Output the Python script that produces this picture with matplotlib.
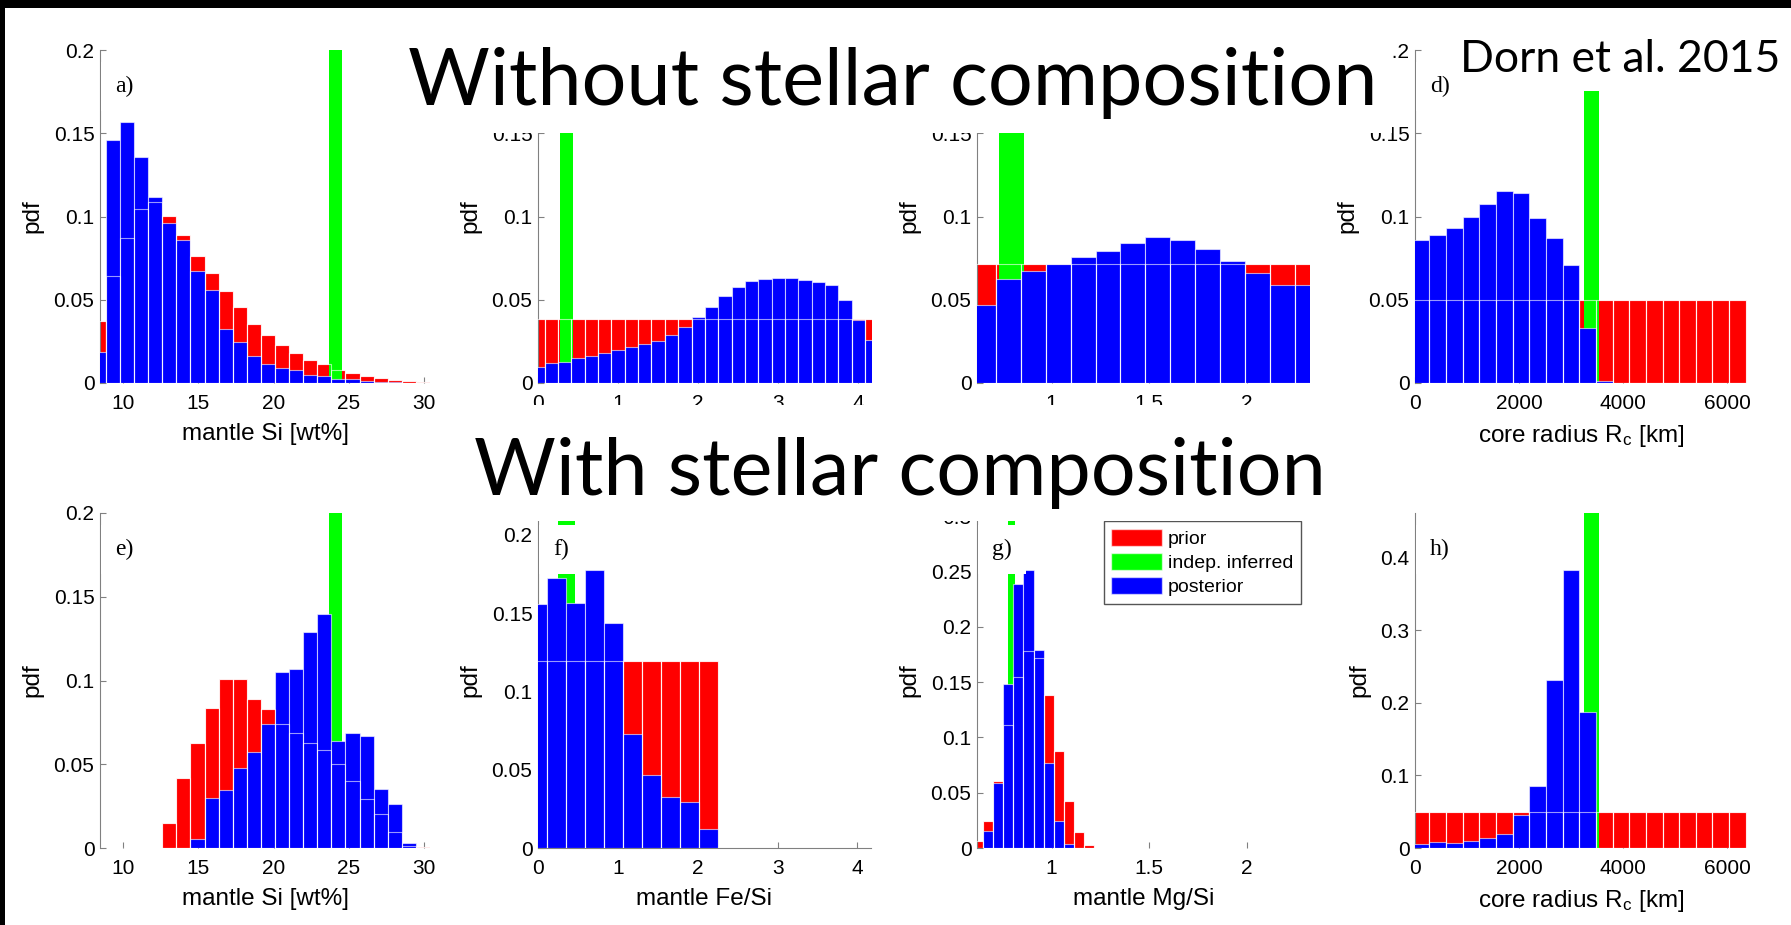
import numpy as np
import matplotlib.pyplot as plt
from matplotlib.patches import Patch, Rectangle
from matplotlib.ticker import FormatStrFormatter

plt.rcParams['font.family'] = ['Liberation Sans', 'DejaVu Sans']
plt.rcParams['mathtext.default'] = 'regular'

# ---------------- data ----------------
# mantle Si [wt%]  (panels a, e)
si_edges = 7.91 + 0.937 * np.arange(25)
si_prior_a = [0.0374, 0.064, 0.087, 0.1046, 0.109, 0.1006, 0.089, 0.0764, 0.066, 0.055, 0.0456, 0.0352,
              0.0288, 0.0226, 0.0178, 0.014, 0.0112, 0.008, 0.006, 0.0044, 0.0032, 0.002, 0.001, 0.0006]
si_post_a = [0.0186, 0.146, 0.1566, 0.136, 0.112, 0.096, 0.0856, 0.067, 0.056, 0.0326, 0.0246, 0.0164,
             0.0116, 0.009, 0.0078, 0.005, 0.004, 0.0024, 0.0026, 0.0014, 0.0006, 0.0004, 0.0002, 0.0]
si_prior_e = [0.0, 0.0, 0.0, 0.0, 0.0, 0.015, 0.0415, 0.0624, 0.0834, 0.1007, 0.1007, 0.089,
              0.083, 0.0742, 0.0686, 0.0624, 0.0588, 0.0499, 0.040, 0.0295, 0.0205, 0.0098, 0.001, 0.0006]
si_post_e = [0.0, 0.0, 0.0, 0.0, 0.0, 0.0, 0.0, 0.0054, 0.030, 0.0349, 0.0475, 0.0572,
             0.0742, 0.105, 0.107, 0.1288, 0.1396, 0.0638, 0.0684, 0.067, 0.0353, 0.026, 0.003, 0.0]
si_indep = (23.68, 24.52, 0.2)

# mantle Fe/Si  (panels b, f)
fe_edges_b = -1 / 12 + np.arange(27) / 6
fe_prior_b = [0.0384, 0.0384, 0.0384, 0.0384, 0.0384, 0.0384, 0.0384, 0.0384, 0.0384, 0.0384, 0.0384, 0.0384, 0.0384,
              0.0384, 0.0384, 0.0384, 0.0384, 0.0384, 0.0384, 0.0384, 0.0384, 0.0384, 0.0384, 0.0384, 0.0384, 0.0384]
fe_post_b = [0.0096, 0.0122, 0.0128, 0.015, 0.0164, 0.018, 0.0196, 0.0216, 0.0232, 0.025, 0.0286, 0.0334, 0.0394,
             0.0458, 0.052, 0.0576, 0.061, 0.0626, 0.0632, 0.0628, 0.0618, 0.0606, 0.0586, 0.05, 0.038, 0.026]
fe_indep_b = (0.279, 0.4375, 0.2)
fe_edges_f = -0.1185 + 0.237 * np.arange(11)
fe_prior_f = [0.1194, 0.1194, 0.1194, 0.1194, 0.1194, 0.1194, 0.1194, 0.1194, 0.1194, 0.1194]
fe_post_f = [0.1557, 0.1727, 0.1563, 0.1776, 0.1439, 0.0727, 0.0465, 0.0326, 0.0294, 0.0124]
fe_indep_f = (0.25, 0.458, 0.214)

# mantle Mg/Si  (panels c, g)
mg_edges_c = 0.585 + 0.128 * np.arange(15)
mg_prior_c = [0.0714, 0.0714, 0.0714, 0.0714, 0.0714, 0.0714, 0.0714,
              0.0714, 0.0714, 0.0714, 0.0714, 0.0714, 0.0714, 0.0714]
mg_post_c = [0.0466, 0.0624, 0.067, 0.0714, 0.0758, 0.0794, 0.084,
             0.0876, 0.0856, 0.0804, 0.073, 0.0658, 0.0586, 0.0586]
mg_indep_c = (0.732, 0.859, 0.2)
mg_edges_g = 0.599 + 0.0513 * np.arange(13)
mg_prior_g = [0.006, 0.024, 0.0602, 0.111, 0.155, 0.178, 0.172, 0.138, 0.088, 0.0425, 0.0145, 0.003]
mg_post_g = [0.0, 0.015, 0.0587, 0.148, 0.239, 0.251, 0.179, 0.077, 0.024, 0.004, 0.0, 0.0]
mg_indep_g = (0.778, 0.812, 0.303)

# core radius [km]  (panels d, h)
rc_edges = -45 + 320 * np.arange(21)
rc_prior_d = [0.0496, 0.0496, 0.0496, 0.0496, 0.0496, 0.0496, 0.0496, 0.0496, 0.0496, 0.0496,
              0.0496, 0.0496, 0.0496, 0.0496, 0.0496, 0.0496, 0.0496, 0.0496, 0.0496, 0.0496]
rc_post_d = [0.086, 0.089, 0.093, 0.0994, 0.1076, 0.1156, 0.1144, 0.099, 0.087, 0.071,
             0.033, 0.0014, 0.0, 0.0, 0.0, 0.0, 0.0, 0.0, 0.0, 0.0]
rc_indep_d = (3251, 3539, 0.1754)
rc_prior_h = [0.049, 0.049, 0.049, 0.049, 0.049, 0.049, 0.049, 0.049, 0.049, 0.049,
              0.049, 0.049, 0.049, 0.049, 0.049, 0.049, 0.049, 0.049, 0.049, 0.049]
rc_post_h = [0.006, 0.0078, 0.0069, 0.0092, 0.0138, 0.0198, 0.046, 0.0853, 0.2318, 0.3839,
             0.188, 0.0, 0.0, 0.0, 0.0, 0.0, 0.0, 0.0, 0.0, 0.0]
rc_indep_h = (3251, 3539, 0.462)

legend_labels = ['prior', 'indep. inferred', 'posterior']

# ---------------- styling ----------------
RED, GREEN, BLUE = '#ff0000', '#00ff00', '#0000ff'
EDGE = (1, 1, 1, 0.6)
W, H = 1791, 925

fig = plt.figure(figsize=(W / 100, H / 100), dpi=100)
fig.patch.set_facecolor('white')


def px_axes(left, top, width, height):
    # axes placed in pixel coordinates measured from the top-left corner
    return fig.add_axes([left / W, 1 - (top + height) / H, width / W, height / H])


def draw_panel(ax, edges, prior, post, indep, xlim, ylim, xticks, yticks, xlabel=None, tag=None):
    n = len(prior)
    left = np.asarray(edges[:n])
    widths = np.diff(edges)[:n]
    ax.bar(left, prior, widths, align='edge', color=RED, edgecolor=EDGE, linewidth=0.8, zorder=1)
    ax.bar(indep[0], indep[2], indep[1] - indep[0], align='edge', color=GREEN, linewidth=0, zorder=2)
    ax.bar(left, post, widths, align='edge', color=BLUE, edgecolor=EDGE, linewidth=0.8, zorder=3)
    # prior outline shows through the posterior bars
    ax.bar(left, prior, widths, align='edge', fill=False, edgecolor=EDGE, linewidth=0.8, zorder=4)

    ax.set_xlim(xlim)
    ax.set_ylim(ylim)
    ax.set_xticks(xticks)
    ax.set_yticks(yticks)
    ax.xaxis.set_major_formatter(FormatStrFormatter('%g'))
    ax.yaxis.set_major_formatter(FormatStrFormatter('%g'))
    ax.set_axisbelow(True)
    for s in ('top', 'right', 'bottom'):
        ax.spines[s].set_visible(False)
    ax.spines['left'].set_color('#808080')
    ax.spines['bottom'].set_color('#808080')
    ax.tick_params(direction='in', length=4, width=0.8, color='#808080', labelsize=15)
    ax.tick_params(axis='x', pad=8)
    ax.tick_params(axis='y', pad=4)
    ax.set_ylabel('pdf', fontsize=17.5, labelpad=7)
    if xlabel:
        ax.set_xlabel(xlabel, fontsize=17.5, labelpad=7)
    if tag:
        # panel tags carry a white background, as in the original figure
        ax.text(0.045, 0.89, tag, transform=ax.transAxes, family='Liberation Serif', fontsize=17,
                ha='left', va='center', zorder=6, bbox=dict(fc='white', ec='none', pad=10))


si_ticks = [10, 15, 20, 25, 30]
fe_ticks = [0, 1, 2, 3, 4]
mg_ticks = [1, 1.5, 2]
rc_ticks = [0, 2000, 4000, 6000]
rc_label = 'core radius R$_c$ [km]'

# top row: without stellar composition
ax_a = px_axes(100, 50, 330, 333)
draw_panel(ax_a, si_edges, si_prior_a, si_post_a, si_indep, (8.45, 30.4), (0, 0.2),
           si_ticks, [0, 0.05, 0.1, 0.15, 0.2], 'mantle Si [wt%]', 'a)')
# the tops of b and c sit under the title box, so only ticks up to 0.15 show
ax_b = px_axes(538, 50, 334, 333)
draw_panel(ax_b, fe_edges_b, fe_prior_b, fe_post_b, fe_indep_b, (0, 4.17), (0, 0.2),
           fe_ticks, [0, 0.05, 0.1, 0.15])
ax_c = px_axes(977, 50, 333, 333)
draw_panel(ax_c, mg_edges_c, mg_prior_c, mg_post_c, mg_indep_c, (0.617, 2.325), (0, 0.2),
           mg_ticks, [0, 0.05, 0.1, 0.15])
ax_d = px_axes(1415, 50, 332, 333)
draw_panel(ax_d, rc_edges, rc_prior_d, rc_post_d, rc_indep_d, (0, 6378), (0, 0.2),
           rc_ticks, [0, 0.05, 0.1, 0.15, 0.2], rc_label, 'd)')

# bottom row: with stellar composition
ax_e = px_axes(100, 513, 330, 335)
draw_panel(ax_e, si_edges, si_prior_e, si_post_e, si_indep, (8.45, 30.4), (0, 0.2),
           si_ticks, [0, 0.05, 0.1, 0.15, 0.2], 'mantle Si [wt%]', 'e)')
ax_f = px_axes(538, 513, 333, 335)
draw_panel(ax_f, fe_edges_f, fe_prior_f, fe_post_f, fe_indep_f, (0, 4.17), (0, 0.214),
           fe_ticks, [0, 0.05, 0.1, 0.15, 0.2], 'mantle Fe/Si', 'f)')
ax_f.spines['bottom'].set_visible(True)
ax_g = px_axes(977, 513, 333, 335)
draw_panel(ax_g, mg_edges_g, mg_prior_g, mg_post_g, mg_indep_g, (0.617, 2.325), (0, 0.303),
           mg_ticks, [0, 0.05, 0.1, 0.15, 0.2, 0.25, 0.3], 'mantle Mg/Si', 'g)')
ax_h = px_axes(1415, 513, 332, 335)
draw_panel(ax_h, rc_edges, rc_prior_h, rc_post_h, rc_indep_h, (0, 6378), (0, 0.462),
           rc_ticks, [0, 0.1, 0.2, 0.3, 0.4], rc_label, 'h)')

handles = [Patch(fc=c, ec=EDGE, label=l) for c, l in zip([RED, GREEN, BLUE], legend_labels)]
leg = ax_g.legend(handles=handles, loc='upper right', bbox_to_anchor=(0.973, 0.975), fontsize=14,
                  fancybox=False, framealpha=1, edgecolor='#555555', handlelength=2.6, handleheight=0.95,
                  handletextpad=0.3, labelspacing=0.25, borderpad=0.4, borderaxespad=0)
leg.get_frame().set_linewidth(1)

# white boxes behind the slide titles (they hide the tops of the middle panels)
fig.add_artist(Rectangle((405 / W, 1 - 133 / H), (1392 - 405) / W, (133 - 8) / H,
                         transform=fig.transFigure, fc='white', ec='none', zorder=5))
fig.add_artist(Rectangle((460 / W, 1 - 521 / H), (1340 - 460) / W, (521 - 405) / H,
                         transform=fig.transFigure, fc='white', ec='none', zorder=5))

fig.text(893 / W, 1 - 105 / H, 'Without stellar composition', family='Lato', fontsize=57,
         ha='center', va='baseline', zorder=6)
fig.text(900 / W, 1 - 495 / H, 'With stellar composition', family='Lato', fontsize=57,
         ha='center', va='baseline', zorder=6)
fig.text(1780 / W, 1 - 72 / H, 'Dorn et al. 2015', family='Lato', fontsize=32,
         ha='right', va='baseline', zorder=6)

# black slide border at top and left
fig.add_artist(Rectangle((0, 1 - 8 / H), 1, 8 / H, transform=fig.transFigure, fc='black', ec='none', zorder=7))
fig.add_artist(Rectangle((0, 0), 5 / W, 1, transform=fig.transFigure, fc='black', ec='none', zorder=7))

fig.savefig('out.png', dpi=100)
